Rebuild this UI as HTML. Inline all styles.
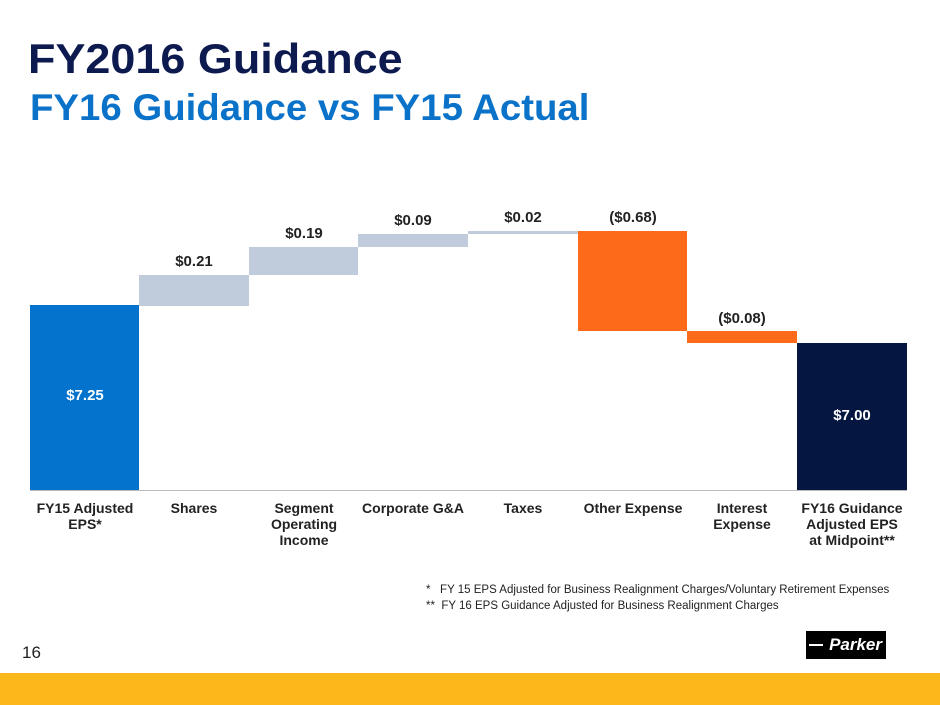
<!DOCTYPE html><html><head><style>
body{margin:0;width:940px;height:705px;position:relative;background:#fff;font-family:"Liberation Sans",Arial,sans-serif;overflow:hidden}
.a{position:absolute}
.b{position:absolute}
.l{position:absolute;font-weight:bold;font-size:15px;color:#222;text-align:center;width:110px}
.c{position:absolute;font-weight:bold;font-size:14px;color:#222;text-align:center;width:110px;top:500px;line-height:16px}
</style></head><body>
<div class="a" style="left:28px;top:35px;font-size:42px;font-weight:bold;color:#0d1a4f;white-space:nowrap;transform:scaleX(1.07);transform-origin:0 0">FY2016 Guidance</div>
<div class="a" style="left:30px;top:87px;font-size:37px;font-weight:bold;color:#0a72c8;white-space:nowrap;transform:scaleX(1.037);transform-origin:0 0">FY16 Guidance vs FY15 Actual</div>
<div class="b" style="left:30px;top:305px;width:109px;height:185px;background:#0473cd"></div>
<div class="b" style="left:139px;top:275px;width:110px;height:31px;background:#c0ccdc"></div>
<div class="b" style="left:249px;top:247px;width:109px;height:28px;background:#c0ccdc"></div>
<div class="b" style="left:358px;top:234px;width:110px;height:13px;background:#c0ccdc"></div>
<div class="b" style="left:468px;top:231px;width:110px;height:3px;background:#c0ccdc"></div>
<div class="b" style="left:578px;top:231px;width:109px;height:100px;background:#fd6a19"></div>
<div class="b" style="left:687px;top:331px;width:110px;height:12px;background:#fd6a19"></div>
<div class="b" style="left:797px;top:343px;width:110px;height:147px;background:#051640"></div>
<div class="b" style="left:30px;top:490px;width:877px;height:1px;background:#bbb"></div>
<div class="l" style="left:30px;top:387px;color:#fff">$7.25</div>
<div class="l" style="left:139px;top:253px">$0.21</div>
<div class="l" style="left:249px;top:225px">$0.19</div>
<div class="l" style="left:358px;top:212px">$0.09</div>
<div class="l" style="left:468px;top:209px">$0.02</div>
<div class="l" style="left:578px;top:209px">($0.68)</div>
<div class="l" style="left:687px;top:310px">($0.08)</div>
<div class="l" style="left:797px;top:407px;color:#fff">$7.00</div>
<div class="c" style="left:30px">FY15 Adjusted<br>EPS*</div>
<div class="c" style="left:139px">Shares</div>
<div class="c" style="left:249px">Segment<br>Operating<br>Income</div>
<div class="c" style="left:358px">Corporate G&amp;A</div>
<div class="c" style="left:468px">Taxes</div>
<div class="c" style="left:578px">Other Expense</div>
<div class="c" style="left:687px">Interest<br>Expense</div>
<div class="c" style="left:797px">FY16 Guidance<br>Adjusted EPS<br>at Midpoint**</div>
<div class="a" style="left:426px;top:582px;font-size:11.5px;color:#222;line-height:16px;white-space:nowrap">*&nbsp;&nbsp;&nbsp;FY 15 EPS Adjusted for Business Realignment Charges/Voluntary Retirement Expenses<br>**&nbsp;&nbsp;FY 16 EPS Guidance Adjusted for Business Realignment Charges</div>
<div class="a" style="left:22px;top:643px;font-size:17px;color:#222">16</div>
<div class="a" style="left:806px;top:631px;width:80px;height:28px;background:#000;color:#fff;font-weight:bold;font-style:italic;font-size:17px;line-height:28px;text-align:right;box-sizing:border-box;padding-right:4px">Parker</div>
<div class="a" style="left:809px;top:644px;width:14px;height:2px;background:#fff"></div>
<div class="a" style="left:0;top:673px;width:940px;height:32px;background:#fdb71a"></div>
</body></html>
